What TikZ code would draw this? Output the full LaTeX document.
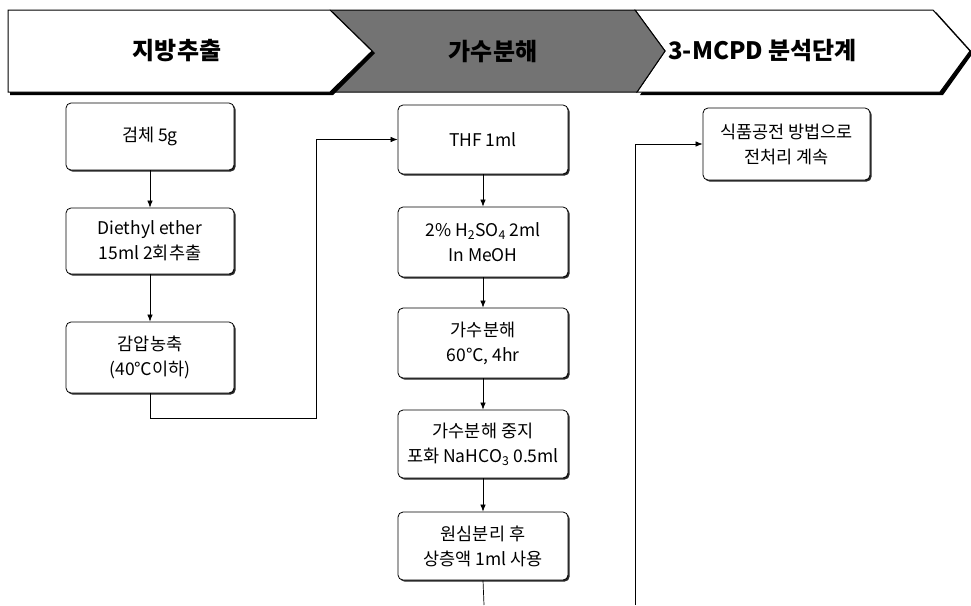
\documentclass[tikz,border=0pt]{standalone}
\usepackage{fontspec}
\setmainfont{Noto Sans CJK KR}
\usetikzlibrary{arrows.meta,shadows}
\tikzset{
  stepbox/.style={draw=black, line width=0.8pt, rounded corners=5pt, fill=white,
    minimum width=168pt, align=center, font=\fontsize{17.5}{25}\selectfont,
    inner sep=0pt,
    drop shadow={shadow xshift=1.6pt, shadow yshift=-1.6pt, opacity=1, fill=black!85}},
  conn/.style={line width=0.7pt, -{Latex[length=7pt,width=5.5pt]}},
  plain/.style={line width=0.7pt},
  hdr/.style={font=\fontsize{24}{26}\selectfont\bfseries, inner sep=0pt},
  band/.style={draw=black, line width=1pt, line join=miter},
}
\begin{document}
\begin{tikzpicture}[x=1pt,y=-1pt]
\useasboundingbox (0,0) rectangle (971,605);
% header band
\fill[black] (639,12) -- (936,12) -- (973,53) -- (943,95) -- (640,95) -- (668,53) -- cycle;
\draw[band, fill=white] (635,10) -- (933,10) -- (970,51) -- (940,92) -- (637,92) -- (665,51) -- cycle;
\draw[band, fill=black!55] (330,10) -- (635,10) -- (665,51) -- (637,92) -- (330,92) -- cycle;
\fill[black] (10,12) -- (333,12) -- (375,53) -- (333,95) -- (10,95) -- cycle;
\draw[band, fill=white] (8,10) -- (330,10) -- (372,51) -- (330,92) -- (8,92) -- cycle;
\node[hdr] (h1) at (177,51) {지방추출};
\node[hdr] (h2) at (493,51) {가수분해};
\node[hdr, anchor=west] (h3) at (668,51) {3-MCPD 분석단계};
% column 1
\node[stepbox, minimum height=67pt] (a1) at (150,136.5) {검체 5g};
\node[stepbox, minimum height=66pt] (a2) at (150,241) {Diethyl ether\\15ml 2회추출};
\node[stepbox, minimum height=71pt] (a3) at (150,357.5) {감압농축\\(40℃이하)};
% column 2
\node[stepbox, minimum height=69pt, minimum width=170pt] (b1) at (483,139.5) {THF 1ml};
\node[stepbox, minimum height=70pt, minimum width=170pt] (b2) at (483,242) {2\% H\textsubscript{2}SO\textsubscript{4} 2ml\\In MeOH};
\node[stepbox, minimum height=70pt, minimum width=170pt] (b3) at (483,343) {가수분해\\60℃, 4hr};
\node[stepbox, minimum height=68pt, minimum width=170pt] (b4) at (483,444) {가수분해 중지\\포화 NaHCO\textsubscript{3} 0.5ml};
\node[stepbox, minimum height=68pt, minimum width=170pt] (b5) at (483,546) {원심분리 후\\상층액 1ml 사용};
% column 3
\node[stepbox, minimum height=72pt, minimum width=167pt] (c1) at (786.5,144) {식품공전 방법으로\\전처리 계속};
% connectors
\coordinate (k1) at (316,418);
\coordinate (k2) at (484,605);
\coordinate (k3) at (635,605);
\draw[conn] (a1) -- (a2);
\draw[conn] (a2) -- (a3);
\draw[conn] (a3.south) |- (k1) |- (b1.west);
\draw[conn] (b1) -- (b2);
\draw[conn] (b2) -- (b3);
\draw[conn] (b3) -- (b4);
\draw[conn] (b4) -- (b5);
\draw[plain] (b5.south) -- (k2);
\draw[conn] (k3) |- (c1.west);
\end{tikzpicture}
\end{document}
